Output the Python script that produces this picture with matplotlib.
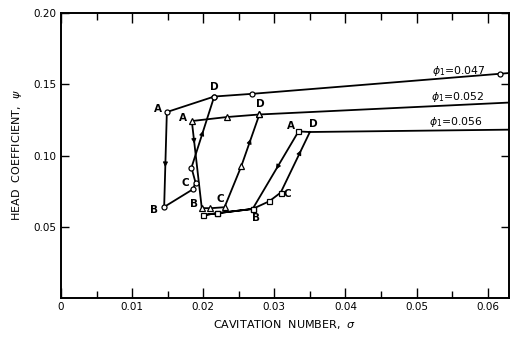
import matplotlib.pyplot as plt
from matplotlib.ticker import MultipleLocator, FixedLocator

# cavitation test points, in the order they were run: sigma lowered through
# breakdown (A -> B) then raised again back to D.  First point lies past the
# right edge so the line runs out to the frame.
sig_047 = [0.0640, 0.0618, 0.0269, 0.02155, 0.01489, 0.01451, 0.01855, 0.01892, 0.01835, 0.02155]
psi_047 = [0.1584, 0.1575, 0.1434, 0.1415, 0.1306, 0.0640, 0.0764, 0.0811, 0.0916, 0.1415]
mark_047 = [0, 1, 1, 1, 1, 1, 1, 1, 1, 1]
lbl_047 = {'D': 3, 'A': 4, 'B': 5, 'C': 6}

sig_052 = [0.0640, 0.0279, 0.02333, 0.0184, 0.0198, 0.0210, 0.0230, 0.02535, 0.0279]
psi_052 = [0.1375, 0.1289, 0.1271, 0.1243, 0.0632, 0.0631, 0.0638, 0.0925, 0.1289]
mark_052 = [0, 1, 1, 1, 1, 1, 1, 1, 1]
lbl_052 = {'D': 1, 'A': 3, 'B': 4, 'C': 6}

sig_056 = [0.0640, 0.0350, 0.0334, 0.02695, 0.0220, 0.01995, 0.0220, 0.02695, 0.0293, 0.0309, 0.0350]
psi_056 = [0.1183, 0.1166, 0.1170, 0.0626, 0.0596, 0.0582, 0.0596, 0.0626, 0.0680, 0.0741, 0.1166]
mark_056 = [0, 0, 1, 1, 1, 1, 1, 1, 1, 1, 0]
lbl_056 = {'D': 1, 'A': 2, 'B': 3, 'C': 9}

flow_labels = [r'$\phi_1$=0.047', r'$\phi_1$=0.052', r'$\phi_1$=0.056']

plt.rcParams['font.family'] = 'DejaVu Sans'
fig = plt.figure(figsize=(5.21, 3.38), dpi=100)
ax = fig.add_axes([0.117, 0.118, 0.860, 0.843])

series = [
    (sig_047, psi_047, mark_047, lbl_047, 'o', 3.6),
    (sig_052, psi_052, mark_052, lbl_052, '^', 5.0),
    (sig_056, psi_056, mark_056, lbl_056, 's', 3.6),
]

for sig, psi, mk, lbl, m, ms in series:
    ax.plot(sig, psi, color='black', lw=1.3, zorder=2)
    xs = [s for s, k in zip(sig, mk) if k]
    ys = [p for p, k in zip(psi, mk) if k]
    ax.plot(xs, ys, ls='none', marker=m, ms=ms, mfc='white', mec='black',
            mew=0.9, zorder=3)

# letter offsets in pixels for each curve
offsets = [
    {'A': (-9, 3), 'B': (-10, -3), 'C': (-8, 6), 'D': (0, 10)},
    {'A': (-9, 3), 'B': (-8, 4), 'C': (-4, 8), 'D': (1, 10)},
    {'A': (-8, 5), 'B': (3, -9), 'C': (7, -1), 'D': (3, 8)},
]
for (sig, psi, mk, lbl, m, ms), off in zip(series, offsets):
    for letter, i in lbl.items():
        ax.annotate(letter, (sig[i], psi[i]), xytext=off[letter],
                    textcoords='offset pixels', ha='center', va='center',
                    fontsize=7.5, fontweight='bold', zorder=4)

# direction arrows: (series, segment start index, fraction along segment)
arrows = [(0, 4, 0.58), (0, 8, 0.52), (1, 3, 0.26), (1, 7, 0.53),
          (2, 2, 0.49), (2, 9, 0.70)]
for k, i, t in arrows:
    sig, psi = series[k][0], series[k][1]
    x0, y0, x1, y1 = sig[i], psi[i], sig[i + 1], psi[i + 1]
    xa, ya = x0 + (x1 - x0) * (t - 0.04), y0 + (y1 - y0) * (t - 0.04)
    xb, yb = x0 + (x1 - x0) * t, y0 + (y1 - y0) * t
    ax.annotate('', xy=(xb, yb), xytext=(xa, ya),
                arrowprops=dict(arrowstyle='-|>', color='black', lw=0.8,
                                mutation_scale=7, shrinkA=0, shrinkB=0),
                zorder=4)

for txt, (x, y) in zip(flow_labels, [(0.0560, 0.1594), (0.05585, 0.1409), (0.05556, 0.1238)]):
    ax.text(x, y, txt, ha='center', va='center', fontsize=7.8)

ax.set_xlim(0, 0.063)
ax.set_ylim(0, 0.20)
ax.xaxis.set_major_locator(FixedLocator([0, 0.01, 0.02, 0.03, 0.04, 0.05, 0.06]))
ax.xaxis.set_minor_locator(MultipleLocator(0.005))
ax.set_xticklabels(['0', '0.01', '0.02', '0.03', '0.04', '0.05', '0.06'])
ax.yaxis.set_major_locator(FixedLocator([0.05, 0.10, 0.15, 0.20]))
ax.set_yticklabels(['0.05', '0.10', '0.15', '0.20'])
ax.tick_params(axis='both', which='both', direction='in', top=True, right=True,
               labelsize=7.5, pad=3, width=1.0)
ax.tick_params(axis='x', which='major', length=7)
ax.tick_params(axis='x', which='minor', length=5)
ax.tick_params(axis='y', which='major', length=6)
for sp in ax.spines.values():
    sp.set_linewidth(1.4)

ax.set_xlabel(r'CAVITATION  NUMBER,  $\sigma$', fontsize=8, labelpad=4)
ax.set_ylabel(r'HEAD  COEFFICIENT,  $\psi$', fontsize=8, labelpad=7)

fig.savefig('out.png', dpi=100)
